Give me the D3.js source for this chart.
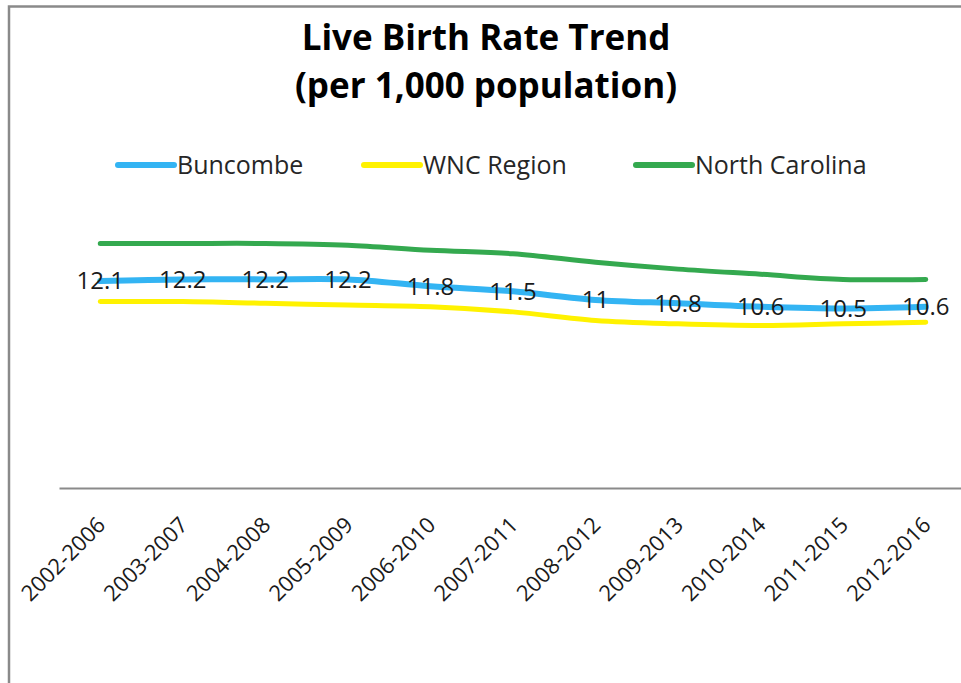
<!DOCTYPE html>
<html><head><meta charset="utf-8">
<script src="https://cdn.jsdelivr.net/npm/d3@7"></script>
<style>
html,body{margin:0;padding:0;background:#fff;overflow:hidden;}
svg{display:block;}
text{font-family:"Open Sans","Noto Sans",sans-serif;}
</style></head>
<body>
<svg id="chart" width="961" height="683"></svg>
<script>
const categories = ["2002-2006","2003-2007","2004-2008","2005-2009","2006-2010","2007-2011","2008-2012","2009-2013","2010-2014","2011-2015","2012-2016"];
const buncombe = [12.1,12.2,12.2,12.2,11.8,11.5,11,10.8,10.6,10.5,10.6];
const wncRegion = [10.9,10.9,10.8,10.7,10.6,10.3,9.8,9.6,9.5,9.6,9.7];
const northCarolina = [14.3,14.3,14.3,14.2,13.9,13.7,13.2,12.8,12.5,12.2,12.2];
const seriesNames = ["Buncombe","WNC Region","North Carolina"];
const seriesColors = ["#33b4f3","#fff200","#34a94f"];
const titleLines = ["Live Birth Rate Trend","(per 1,000 population)"];

const svg = d3.select("#chart");
// border
svg.append("rect").attr("x",9).attr("y",6.5).attr("width",1100).attr("height",1000)
  .attr("fill","none").attr("stroke","#8a8a8a").attr("stroke-width",2.5);

const x = d3.scaleBand().domain(categories).range([59,967]).padding(0);
const y = d3.scaleLinear().domain([0,16]).range([488,488-16*17.1]);
const cx = c => x(c) + x.bandwidth()/2;

// title
svg.append("g").selectAll("text").data(titleLines).join("text")
  .attr("x",486).attr("y",(d,i)=>50+i*48)
  .attr("text-anchor","middle").attr("font-weight","bold").attr("font-size",35)
  .attr("fill","#000").text(d=>d);

// axis
const axis = svg.append("g").attr("transform","translate(0,488)")
  .call(d3.axisBottom(x).tickSize(0).tickSizeOuter(0));
axis.select(".domain").attr("stroke","#8a8a8a").attr("stroke-width",2);
axis.selectAll(".tick text")
  .attr("x",0).attr("y",0).attr("dy","0.35em")
  .attr("transform","translate(1,33) rotate(-45)")
  .attr("text-anchor","end").attr("font-size",22).attr("fill","#1a1a1a")
  .attr("font-family","'Open Sans','Noto Sans',sans-serif");

const allSeries = [buncombe, wncRegion, northCarolina];
const line = d3.line().x((d,i)=>cx(categories[i])).y(d=>y(d)).curve(d3.curveCatmullRom.alpha(0.5));

// draw in order: NC, WNC, Buncombe
[2,1,0].forEach(s=>{
  svg.append("path").datum(allSeries[s]).attr("d",line)
    .attr("fill","none").attr("stroke",seriesColors[s])
    .attr("stroke-width", s===0?6:5).attr("stroke-linecap","round").attr("stroke-linejoin","round");
});

// data labels for Buncombe
svg.append("g").selectAll("text").data(buncombe).join("text")
  .attr("x",(d,i)=>cx(categories[i])).attr("y",d=>y(d)).attr("dy","0.35em")
  .attr("text-anchor","middle").attr("font-size",24).attr("fill","#1a1a1a")
  .text(d=>d);

// legend
const legX = [118,364,636];
const lg = svg.append("g").selectAll("g").data(seriesNames).join("g")
  .attr("transform",(d,i)=>`translate(${legX[i]},165)`);
lg.append("line").attr("x1",0).attr("x2",56).attr("y1",0).attr("y2",0)
  .attr("stroke",(d,i)=>seriesColors[i]).attr("stroke-width",6).attr("stroke-linecap","round");
lg.append("text").attr("x",59).attr("y",0).attr("dy","0.35em")
  .attr("font-size",25).attr("fill","#262626").text(d=>d);
</script>
</body></html>
